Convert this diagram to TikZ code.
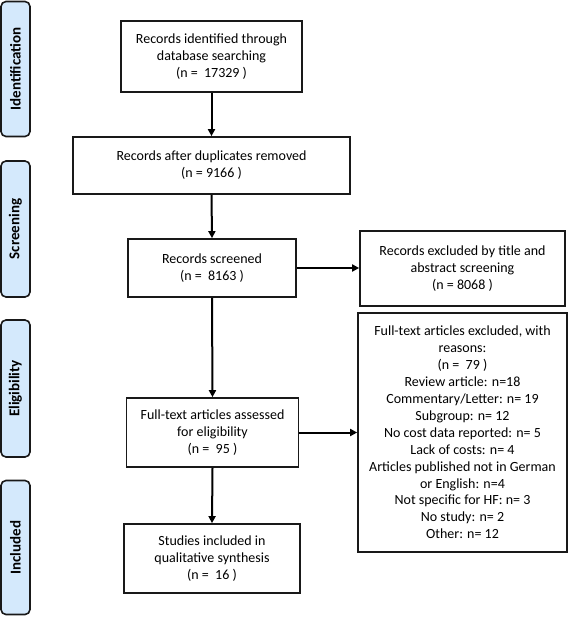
\documentclass[tikz,border=0pt]{standalone}
\usepackage{fontspec}
\setmainfont{Carlito}
\usetikzlibrary{arrows.meta}
\definecolor{tabblue}{RGB}{212,233,252}
\definecolor{edge}{RGB}{25,25,25}
\tikzset{
  box/.style={draw=edge, line width=1.7pt, align=center, inner sep=2pt,
    font=\fontsize{14}{16.9}\selectfont},
  tab/.style={draw=edge, line width=1.6pt, fill=tabblue, rounded corners=5pt,
    rotate=90, minimum height=29pt, inner sep=0pt, font=\bfseries\fontsize{15}{17}\selectfont},
  arr/.style={line width=2pt, -{Triangle[length=7pt,width=7pt]}}
}
\begin{document}
\begin{tikzpicture}[x=1pt,y=-1pt]
\useasboundingbox (0,0) rectangle (568,617);
% phase tabs
\node[tab, minimum width=135pt] (tid) at (15.5,69) {Identification};
\node[tab, minimum width=136pt] (tscr) at (15.5,229) {Screening};
\node[tab, minimum width=137pt] (telig) at (15.5,388.5) {Eligibility};
\node[tab, minimum width=134pt] (tincl) at (15.5,547.5) {Included};
% main boxes
\node[box, minimum width=181pt, minimum height=71pt] (b1) at (211.5,56.5)
  {Records identified through\\database searching\\(n =~ 17329 )};
\node[box, minimum width=277pt, minimum height=57pt] (b2) at (211.5,165.5)
  {Records after duplicates removed\\(n = 9166 )};
\node[box, minimum width=168pt, minimum height=58pt] (b3) at (212,268)
  {Records screened\\(n =~ 8163 )};
\node[box, minimum width=205pt, minimum height=75pt] (r1) at (462.5,268.5)
  {Records excluded by title and\\abstract screening\\(n = 8068 )};
\node[box, minimum width=209pt, minimum height=239pt] (r2) at (462.5,432.5)
  {Full-text articles excluded, with\\reasons:\\(n =~ 79 )\\Review article: n=18\\Commentary/Letter: n= 19\\Subgroup: n= 12\\No cost data reported: n= 5\\Lack of costs: n= 4\\Articles published not in German\\or English: n=4\\Not specific for HF: n= 3\\No study: n= 2\\Other: n= 12};
\node[box, minimum width=172pt, minimum height=69pt] (b4) at (212.5,432.5)
  {Full-text articles assessed\\for eligibility\\(n =~ 95 )};
\node[box, minimum width=176pt, minimum height=69pt] (b5) at (212,558.5)
  {Studies included in\\qualitative synthesis\\(n =~ 16 )};
% connectors
\draw[arr] (b1.south) -- (b2.north);
\draw[arr] (b2.south) -- (b3.north);
\draw[arr] (b3.south) -- (b4.north);
\draw[arr] (b4.south) -- (b5.north);
\draw[arr] (b3.east) -- (b3.east -| r1.west);
\draw[arr] (b4.east) -- (b4.east -| r2.west);
\end{tikzpicture}
\end{document}
